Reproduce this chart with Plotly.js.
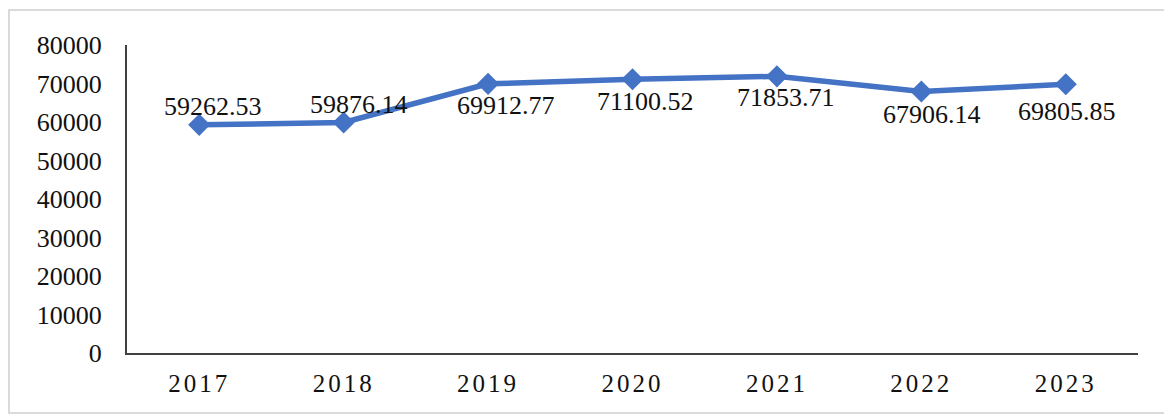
<!DOCTYPE html>
<html>
<head>
<meta charset="utf-8">
<script src="https://cdn.plot.ly/plotly-3.0.1.min.js"></script>
<style>
  html, body { margin: 0; padding: 0; background: #fff; }
  #wrap { position: relative; width: 1164px; height: 414px; }
  #chart { width: 1164px; height: 414px; }
  #frame { position: absolute; left: 8px; top: 9px; width: 1154px; height: 401px;
           border: 2px solid #dadada; border-right-width: 1px; pointer-events: none; }
  .xtick text { letter-spacing: 3px; }
</style>
</head>
<body>
<div id="wrap">
  <div id="chart"></div>
  <div id="frame"></div>
</div>
<script>
const years = ['2017', '2018', '2019', '2020', '2021', '2022', '2023'];
const values = [59262.53, 59876.14, 69912.77, 71100.52, 71853.71, 67906.14, 69805.85];
const valueLabels = ['59262.53', '59876.14', '69912.77', '71100.52', '71853.71', '67906.14', '69805.85'];
const yTicks = [0, 10000, 20000, 30000, 40000, 50000, 60000, 70000, 80000];

// label offsets (pixels) relative to each point
const labelShiftX = [14, 15, 18, 13, 9, 11, 1];
const labelShiftY = [18, 18, -22, -22, -21, -23, -27];

const fontFam = 'Liberation Serif, Times New Roman, serif';

const trace = {
  x: years,
  y: values,
  type: 'scatter',
  mode: 'lines+markers',
  line: { color: '#4472C4', width: 5.5 },
  marker: { symbol: 'diamond', size: 17, color: '#4472C4' },
  hoverinfo: 'skip'
};

const annotations = years.map((yr, i) => ({
  x: i, y: values[i], xref: 'x', yref: 'y',
  text: valueLabels[i], showarrow: false,
  xshift: labelShiftX[i], yshift: labelShiftY[i],
  font: { family: fontFam, size: 26, color: '#111111' }
}));

const layout = {
  width: 1164, height: 414,
  margin: { l: 127, r: 26, t: 45, b: 61 },
  paper_bgcolor: '#ffffff', plot_bgcolor: '#ffffff',
  showlegend: false,
  font: { family: fontFam, color: '#111111' },
  xaxis: {
    type: 'category',
    showgrid: false, zeroline: false,
    showline: true, linecolor: '#404040', linewidth: 2,
    ticks: '',
    tickfont: { family: fontFam, size: 25, color: '#111111' },
    ticklabelstandoff: 7,
    range: [-0.5, 6.5]
  },
  yaxis: {
    range: [0, 80000],
    tickvals: yTicks,
    ticktext: yTicks.map(String),
    showgrid: false, zeroline: false,
    showline: true, linecolor: '#404040', linewidth: 2,
    ticks: '',
    tickfont: { family: fontFam, size: 26, color: '#111111' },
    ticklabelstandoff: 18
  },
  annotations: annotations
};

Plotly.newPlot('chart', [trace], layout, { displayModeBar: false, staticPlot: true });
</script>
</body>
</html>
